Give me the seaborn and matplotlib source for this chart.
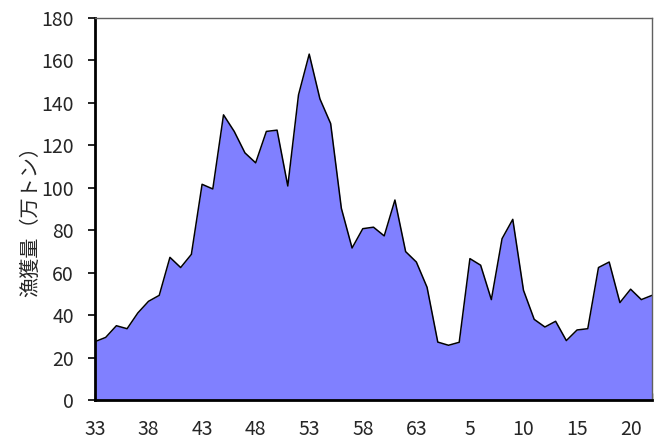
import matplotlib
matplotlib.use('Agg')
import matplotlib.pyplot as plt
import seaborn as sns
import pandas as pd

# 昭和33年〜平成22年
year_labels = [str(y) for y in range(33, 64)] + [str(y) for y in range(1, 23)]
catch = [27.5, 29.5, 35, 33.6, 41, 46.5, 49.3, 67.2, 62.4, 68.6,
         101.6, 99.4, 134.3, 126.5, 116.4, 111.7, 126.5, 127.1, 100.8, 143.7,
         162.9, 141.8, 130.2, 90.3, 71.6, 80.7, 81.4, 77.3, 94.2, 69.9,
         65, 53.1, 27.3, 25.8, 27.2, 66.6, 63.5, 47.3, 76, 85.1,
         51.7, 38, 34.4, 37.1, 28, 33, 33.6, 62.4, 65, 45.9,
         52.2, 47.3, 49.3]

df = pd.DataFrame({'idx': range(len(catch)), 'year': year_labels, 'catch': catch})

sns.set_style('white')
plt.rcParams['font.family'] = ['Noto Sans CJK JP', 'DejaVu Sans']

fig = plt.figure(figsize=(6.64, 4.45), dpi=100)
ax = fig.add_axes([0.143, 0.101, 0.839, 0.859])

ax.fill_between(df['idx'], 0, df['catch'], color='#8080FF', linewidth=0)
sns.lineplot(data=df, x='idx', y='catch', color='black', linewidth=1.1, ax=ax)

ax.set_xlim(0, len(catch) - 1)
ax.set_ylim(0, 180)
ax.set_yticks(range(0, 181, 20))
ax.set_xticks(df['idx'])
ax.set_xticklabels([lab if i % 5 == 0 else '' for i, lab in enumerate(year_labels)])

ax.tick_params(axis='y', direction='out', length=5, width=1.2, color='black',
               labelsize=14, pad=10, left=True)
ax.tick_params(axis='x', direction='in', length=5, width=1, color='black',
               labelsize=14, pad=14, bottom=True)

ax.set_xlabel('')
ax.set_ylabel('漁獲量（万トン）', fontsize=14.5)
ax.yaxis.set_label_coords(-0.097, 0.48)

for s in ['left', 'bottom']:
    ax.spines[s].set_color('black')
    ax.spines[s].set_linewidth(2)
for s in ['top', 'right']:
    ax.spines[s].set_color('#606060')
    ax.spines[s].set_linewidth(1)

fig.savefig('out.png', dpi=100)
